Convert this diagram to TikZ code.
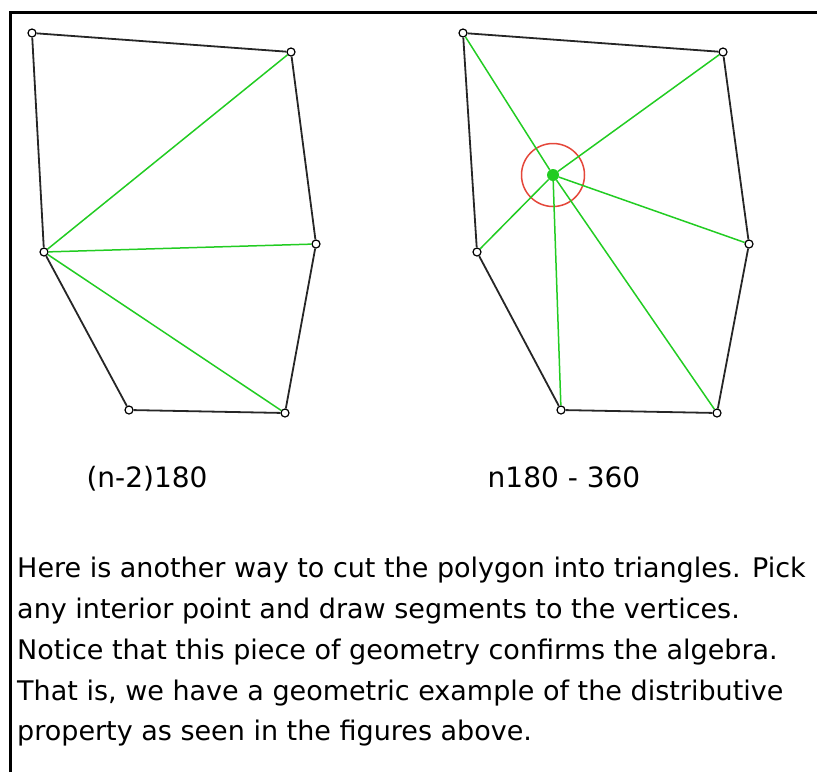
\documentclass[tikz,border=0pt]{standalone}
\usepackage{fontspec}
\setmainfont{DejaVu Sans}
\usepackage{tikz}
\definecolor{seggreen}{HTML}{22CC22}
\definecolor{ringred}{HTML}{E4473A}

\begin{document}
\begin{tikzpicture}[x=1pt,y=-1pt,
  vtx/.style={circle,draw=black,fill=white,line width=1.2pt,inner sep=0pt,minimum size=8pt},
  side/.style={line width=1.8pt,black!85},
  seg/.style={line width=1.5pt,seggreen},
  ring/.style={circle,draw=ringred,line width=1.5pt,inner sep=0pt,minimum size=63pt},
  dot/.style={circle,fill=seggreen,inner sep=0pt,minimum size=12pt},
  lbl/.style={font=\fontsize{28}{34}\selectfont,anchor=base,inner sep=0pt},
  txt/.style={font=\fontsize{27}{41}\selectfont,anchor=base west,inner sep=0pt},
]
\useasboundingbox (0,0) rectangle (817,772);
% frame (top and left edge only)
\draw[line width=2.8pt] (10.3,772) -- (10.3,12.3) -- (817,12.3);

% left polygon: diagonals from one vertex
\node[vtx] (a1) at (32,33) {};
\node[vtx] (a2) at (291,52) {};
\node[vtx] (a3) at (316,244) {};
\node[vtx] (a4) at (44,252) {};
\node[vtx] (a5) at (129,410) {};
\node[vtx] (a6) at (285,413) {};
\draw[side] (a1)--(a2)--(a3)--(a6)--(a5)--(a4)--(a1);
\draw[seg] (a4)--(a2); \draw[seg] (a4)--(a3); \draw[seg] (a4)--(a6);

% right polygon: segments from an interior point
\node[vtx] (b1) at (463,33) {};
\node[vtx] (b2) at (723,52) {};
\node[vtx] (b3) at (749,244) {};
\node[vtx] (b4) at (477,252) {};
\node[vtx] (b5) at (561,410) {};
\node[vtx] (b6) at (717,413) {};
\draw[side] (b1)--(b2)--(b3)--(b6)--(b5)--(b4)--(b1);
\node[ring] (rg) at (553,175) {};
\node[dot] (p) at (553,175) {};
\draw[seg] (p)--(b1); \draw[seg] (p)--(b2); \draw[seg] (p)--(b3);
\draw[seg] (p)--(b4); \draw[seg] (p)--(b5); \draw[seg] (p)--(b6);

% formulas
\node[lbl] (f1) at (147,487) {(n-2)180};
\node[lbl] (f2) at (564,487) {n180 - 360};

% caption
\node[txt] (t1) at (17,577) {Here is another way to cut the polygon into triangles. Pick};
\node[txt] (t2) at (17,618) {any interior point and draw segments to the vertices.};
\node[txt] (t3) at (17,659) {Notice that this piece of geometry confirms the algebra.};
\node[txt] (t4) at (17,700) {That is, we have a geometric example of the distributive};
\node[txt] (t5) at (17,740) {property as seen in the figures above.};
\end{tikzpicture}
\end{document}
